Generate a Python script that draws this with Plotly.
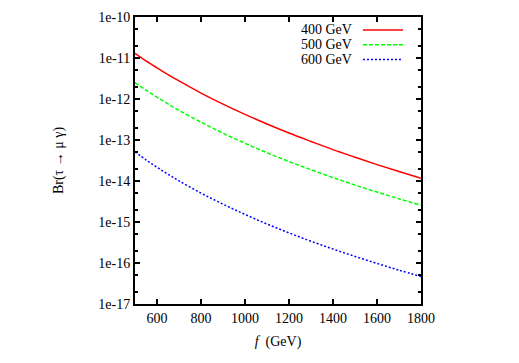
import plotly.graph_objects as go

# f (GeV) grid and log10(Br)
f_gev = [500, 550, 600, 650, 700, 800, 900, 1000, 1100, 1200, 1300, 1400, 1500, 1600, 1700, 1800]
log_br_400 = [-10.885, -11.07, -11.24, -11.405, -11.56, -11.855, -12.125, -12.375, -12.61, -12.83,
              -13.035, -13.235, -13.42, -13.60, -13.77, -13.935]
log_br_500 = [-11.60, -11.785, -11.955, -12.12, -12.28, -12.565, -12.835, -13.08, -13.31, -13.525,
              -13.725, -13.915, -14.10, -14.27, -14.435, -14.59]
log_br_600 = [-13.29, -13.485, -13.665, -13.835, -13.995, -14.295, -14.565, -14.815, -15.05, -15.265,
              -15.47, -15.66, -15.84, -16.01, -16.175, -16.33]

series = [
    ("400 GeV", log_br_400, "#ff0000", "solid"),
    ("500 GeV", log_br_500, "#00ff00", "4px,2px"),
    ("600 GeV", log_br_600, "#0000ff", "2px,2px"),
]

x_ticks = [600, 800, 1000, 1200, 1400, 1600, 1800]
y_ticks = [1e-17, 1e-16, 1e-15, 1e-14, 1e-13, 1e-12, 1e-11, 1e-10]
y_text = ["1e-17", "1e-16", "1e-15", "1e-14", "1e-13", "1e-12", "1e-11", "1e-10"]

SERIF = "Liberation Serif"

fig = go.Figure()
for name, lg, col, dash in series:
    fig.add_trace(go.Scatter(x=f_gev, y=[10 ** v for v in lg], mode="lines", name=name,
                             line=dict(color=col, width=1.5, dash=dash, shape="spline"),
                             showlegend=False))

# gnuplot-style key: text right-aligned, sample to the right
for i, (name, lg, col, dash) in enumerate(series):
    yk = 0.955 - i * 0.0515
    fig.add_annotation(xref="paper", yref="paper", x=0.765, y=yk, text=name, showarrow=False,
                       xanchor="right", yanchor="middle", font=dict(family=SERIF, size=14, color="black"))
    fig.add_shape(type="line", xref="paper", yref="paper", x0=0.797, x1=0.937, y0=yk, y1=yk,
                  line=dict(color=col, width=1.5, dash=dash))

axis_common = dict(showline=True, linecolor="black", linewidth=2, mirror="ticks",
                   ticks="inside", ticklen=5, tickwidth=1.5, tickcolor="black",
                   showgrid=False, zeroline=False,
                   tickfont=dict(family=SERIF, size=14, color="black"))

fig.update_xaxes(range=[500, 1800], tickvals=x_ticks, ticktext=[str(v) for v in x_ticks],
                 title=dict(text="<i>f</i>&nbsp;&nbsp;(GeV)", font=dict(family=SERIF, size=14, color="black"),
                            standoff=11),
                 **axis_common)
fig.update_yaxes(type="log", range=[-17, -10], tickvals=y_ticks, ticktext=y_text,
                 minor=dict(ticks="inside", ticklen=3, tickcolor="black", dtick="D2", showgrid=False),
                 title=dict(text="Br(τ → μ γ)", font=dict(family=SERIF, size=14, color="black"),
                            standoff=31),
                 **axis_common)

fig.update_layout(width=519, height=363, paper_bgcolor="white", plot_bgcolor="white",
                  margin=dict(l=135, r=98, t=17, b=59, autoexpand=False),
                  font=dict(family=SERIF, size=14, color="black"))

fig.write_html("out.html", config={"displayModeBar": False},
               post_script="document.body.style.margin='0';")
